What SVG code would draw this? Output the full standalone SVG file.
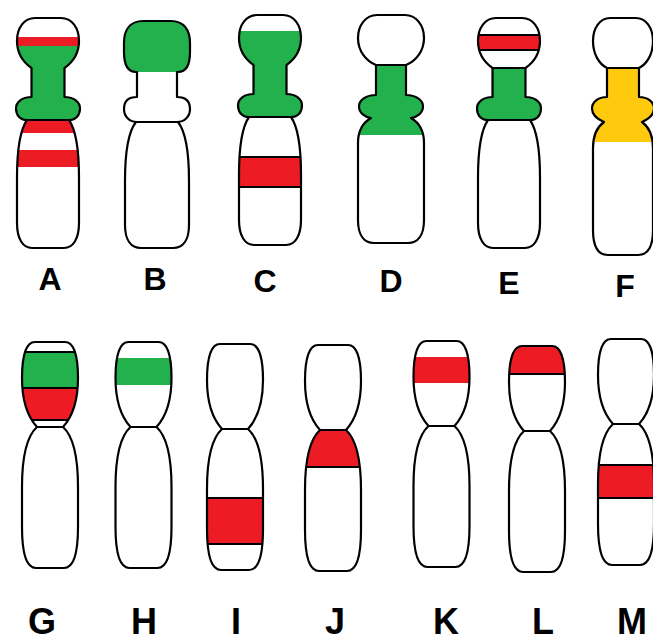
<svg xmlns="http://www.w3.org/2000/svg" xmlns:xlink="http://www.w3.org/1999/xlink" width="653" height="642" viewBox="0 0 653 642">
  <style>
    .bg { fill: #ffffff; }
    .out { fill: none; stroke: #000; stroke-width: 2.2; stroke-linejoin: round; }
    .gr { fill: #22b14c; }
    .rd { fill: #ed1c24; }
    .yl { fill: #ffc90e; }
    .ln { fill: none; stroke: #000; stroke-width: 2.2; }
    .lab { font-family: "Liberation Sans", Arial, sans-serif; font-weight: bold; text-anchor: middle; fill: #000; }
    .s1 { font-size: 32px; }
    .s2 { font-size: 36px; }
  </style>
  <defs>
    <!-- outline with head, neck and collar (A, C, E) -->
    <path id="t1u" d="M-13,0 L13,0 C24,0 31,10 31,23 C31,35 25,44 16.5,50 L16.5,79 C26,79 32,84 32,90.5 C32,97 28,102 21,102 L-21,102 C-28,102 -32,97 -32,90.5 C-32,84 -26,79 -16.5,79 L-16.5,50 C-25,44 -31,35 -31,23 C-31,10 -24,0 -13,0 Z"/>
    <path id="t1l" d="M-21,102 L21,102 C28,112 31,135 31,160 L31,205 C31,221 25,230 16,230 L-16,230 C-25,230 -31,221 -31,205 L-31,160 C-31,135 -28,112 -21,102 Z"/>
    <!-- rounded square-headed variant (B) -->
    <path id="bu" d="M-14,0 L14,0 C27,0 33,9 33,22 L33,31 C33,44 29,51 21,51 L20,51 L20,76 C28,76 33,80 33,88 C33,96 27,101 20,101 L-20,101 C-27,101 -33,96 -33,88 C-33,80 -28,76 -20,76 L-20,51 L-21,51 C-29,51 -33,44 -33,31 L-33,22 C-33,9 -27,0 -14,0 Z"/>
    <path id="bl" d="M-21,101 L21,101 C29,111 32,134 32,160 L32,204 C32,219 26,227 16,227 L-16,227 C-26,227 -32,219 -32,204 L-32,160 C-32,134 -29,111 -21,101 Z"/>
    <!-- single-outline variants with a pinch below the collar (D, F) -->
    <path id="dd" d="M-14,0 L14,0 C25,0 33,10 33,23 C33,36 25,46 15,50 L15,80 C25,80 32,85 32,91.5 C32,98 26,102 20,103 C27,107 33,114 33,128 L33,205 C33,220 27,228 17,228 L-17,228 C-27,228 -33,220 -33,205 L-33,128 C-33,114 -27,107 -20,103 C-26,102 -32,98 -32,91.5 C-32,85 -25,80 -15,80 L-15,50 C-25,46 -33,36 -33,23 C-33,10 -25,0 -14,0 Z"/>
    <path id="ff" d="M-13,0 L13,0 C23,0 30,10 30,23 C30,36 24,46 16,50 L16,79 C25,79 31,84 31,90.5 C31,97 26,101 19,104 C26,109 30,117 30,130 L30,212 C30,228 25,237 15,237 L-15,237 C-25,237 -30,228 -30,212 L-30,130 C-30,117 -26,109 -19,104 C-26,101 -31,97 -31,90.5 C-31,84 -25,79 -16,79 L-16,50 C-24,46 -30,36 -30,23 C-30,10 -23,0 -13,0 Z"/>
    <!-- simple two-arm outline (G to M) -->
    <path id="h2" d="M-15,0 L15,0 C24,0 28,14 28,36 C28,58 23,74 13,85 L-13,85 C-23,74 -28,58 -28,36 C-28,14 -24,0 -15,0 Z"/>
    <path id="l2" d="M-13,85 L13,85 C23,94 28,116 28,145 L28,185 C28,210 24,226 14,226 L-14,226 C-24,226 -28,210 -28,185 L-28,145 C-28,116 -23,94 -13,85 Z"/>

    <clipPath id="c-t1u"><use xlink:href="#t1u"/></clipPath>
    <clipPath id="c-t1l"><use xlink:href="#t1l"/></clipPath>
    <clipPath id="c-bu"><use xlink:href="#bu"/></clipPath>
    <clipPath id="c-dd"><use xlink:href="#dd"/></clipPath>
    <clipPath id="c-ff"><use xlink:href="#ff"/></clipPath>
    <clipPath id="c-h2"><use xlink:href="#h2"/></clipPath>
    <clipPath id="c-l2"><use xlink:href="#l2"/></clipPath>
  </defs>

  <rect width="653" height="642" fill="#ffffff"/>

  <!-- top row -->
  <g id="chrA" transform="translate(48,18)">
    <use xlink:href="#t1u" class="bg"/><use xlink:href="#t1l" class="bg"/>
    <g clip-path="url(#c-t1u)">
      <rect class="rd" x="-40" y="19" width="80" height="9"/>
      <rect class="gr" x="-40" y="28" width="80" height="80"/>
    </g>
    <g clip-path="url(#c-t1l)">
      <rect class="rd" x="-40" y="98" width="80" height="17"/>
      <rect class="rd" x="-40" y="132" width="80" height="17"/>
    </g>
    <use xlink:href="#t1u" class="out"/><use xlink:href="#t1l" class="out"/>
    <text class="lab s1" x="2" y="272">A</text>
  </g>

  <g id="chrB" transform="translate(157,21)">
    <use xlink:href="#bu" class="bg"/><use xlink:href="#bl" class="bg"/>
    <g clip-path="url(#c-bu)">
      <rect class="gr" x="-40" y="-5" width="80" height="56"/>
    </g>
    <use xlink:href="#bu" class="out"/><use xlink:href="#bl" class="out"/>
    <text class="lab s1" x="-2" y="269">B</text>
  </g>

  <g id="chrC" transform="translate(270,15)">
    <use xlink:href="#t1u" class="bg"/><use xlink:href="#t1l" class="bg"/>
    <g clip-path="url(#c-t1u)">
      <rect class="gr" x="-40" y="16" width="80" height="94"/>
    </g>
    <g clip-path="url(#c-t1l)">
      <rect class="rd" x="-40" y="142" width="80" height="30"/>
      <path class="ln" d="M-40,142 H40 M-40,172 H40"/>
    </g>
    <use xlink:href="#t1u" class="out"/><use xlink:href="#t1l" class="out"/>
    <text class="lab s1" x="-5" y="277">C</text>
  </g>

  <g id="chrD" transform="translate(391,15)">
    <use xlink:href="#dd" class="bg"/>
    <g clip-path="url(#c-dd)">
      <rect class="gr" x="-40" y="50" width="80" height="70"/>
      <path class="ln" d="M-40,50 H40"/>
    </g>
    <use xlink:href="#dd" class="out"/>
    <text class="lab s1" x="0" y="277">D</text>
  </g>

  <g id="chrE" transform="translate(509,18)">
    <use xlink:href="#t1u" class="bg"/><use xlink:href="#t1l" class="bg"/>
    <g clip-path="url(#c-t1u)">
      <rect class="rd" x="-40" y="17" width="80" height="15"/>
      <rect class="gr" x="-40" y="50" width="80" height="60"/>
      <path class="ln" d="M-40,17 H40 M-40,32 H40 M-40,50 H40"/>
    </g>
    <use xlink:href="#t1u" class="out"/><use xlink:href="#t1l" class="out"/>
    <text class="lab s1" x="0" y="276">E</text>
  </g>

  <g id="chrF" transform="translate(623,18)">
    <use xlink:href="#ff" class="bg"/>
    <g clip-path="url(#c-ff)">
      <rect class="yl" x="-40" y="50" width="80" height="74"/>
      <path class="ln" d="M-40,50 H40"/>
    </g>
    <use xlink:href="#ff" class="out"/>
    <text class="lab s1" x="2" y="279">F</text>
  </g>

  <!-- bottom row -->
  <g id="chrG" transform="translate(50,342)">
    <use xlink:href="#h2" class="bg"/><use xlink:href="#l2" class="bg"/>
    <g clip-path="url(#c-h2)">
      <rect class="gr" x="-40" y="10" width="80" height="36"/>
      <rect class="rd" x="-40" y="46" width="80" height="32"/>
      <path class="ln" d="M-40,10 H40 M-40,46 H40 M-40,78 H40"/>
    </g>
    <use xlink:href="#h2" class="out"/><use xlink:href="#l2" class="out"/>
    <text class="lab s2" x="-8" y="292">G</text>
  </g>

  <g id="chrH" transform="translate(143.5,342)">
    <use xlink:href="#h2" class="bg"/><use xlink:href="#l2" class="bg"/>
    <g clip-path="url(#c-h2)">
      <rect class="gr" x="-40" y="16" width="80" height="27"/>
    </g>
    <use xlink:href="#h2" class="out"/><use xlink:href="#l2" class="out"/>
    <text class="lab s2" x="0.5" y="292">H</text>
  </g>

  <g id="chrI" transform="translate(235,344)">
    <use xlink:href="#h2" class="bg"/><use xlink:href="#l2" class="bg"/>
    <g clip-path="url(#c-l2)">
      <rect class="rd" x="-40" y="154" width="80" height="46"/>
      <path class="ln" d="M-40,154 H40 M-40,200 H40"/>
    </g>
    <use xlink:href="#h2" class="out"/><use xlink:href="#l2" class="out"/>
    <text class="lab s2" x="1" y="290">I</text>
  </g>

  <g id="chrJ" transform="translate(333,345)">
    <use xlink:href="#h2" class="bg"/><use xlink:href="#l2" class="bg"/>
    <g clip-path="url(#c-l2)">
      <rect class="rd" x="-40" y="80" width="80" height="42"/>
      <path class="ln" d="M-40,122 H40"/>
    </g>
    <use xlink:href="#h2" class="out"/><use xlink:href="#l2" class="out"/>
    <text class="lab s2" x="2" y="289">J</text>
  </g>

  <g id="chrK" transform="translate(441.5,341)">
    <use xlink:href="#h2" class="bg"/><use xlink:href="#l2" class="bg"/>
    <g clip-path="url(#c-h2)">
      <rect class="rd" x="-40" y="16" width="80" height="26"/>
    </g>
    <use xlink:href="#h2" class="out"/><use xlink:href="#l2" class="out"/>
    <text class="lab s2" x="4.5" y="293">K</text>
  </g>

  <g id="chrL" transform="translate(537,346)">
    <use xlink:href="#h2" class="bg"/><use xlink:href="#l2" class="bg"/>
    <g clip-path="url(#c-h2)">
      <rect class="rd" x="-40" y="-5" width="80" height="33"/>
      <path class="ln" d="M-40,28 H40"/>
    </g>
    <use xlink:href="#h2" class="out"/><use xlink:href="#l2" class="out"/>
    <text class="lab s2" x="6" y="288">L</text>
  </g>

  <g id="chrM" transform="translate(626,339)">
    <use xlink:href="#h2" class="bg"/><use xlink:href="#l2" class="bg"/>
    <g clip-path="url(#c-l2)">
      <rect class="rd" x="-40" y="126" width="80" height="33"/>
      <path class="ln" d="M-40,126 H40 M-40,159 H40"/>
    </g>
    <use xlink:href="#h2" class="out"/><use xlink:href="#l2" class="out"/>
    <text class="lab s2" x="6" y="295">M</text>
  </g>

  <!-- connectors: none in this figure -->
  <g id="connectors"/>
</svg>
